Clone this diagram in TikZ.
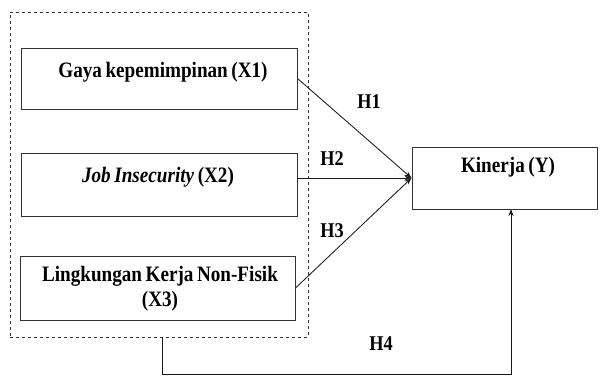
\documentclass[tikz,border=0pt]{standalone}
\usepackage{fontspec}
\setmainfont{Liberation Serif}[FakeStretch=0.87,WordSpace=0.75]
\usetikzlibrary{arrows.meta}
\begin{document}
\begin{tikzpicture}[x=1pt,y=-1pt,
  box/.style={draw=black!80, line width=1pt, inner sep=0pt},
  txt/.style={font=\fontsize{22}{25}\selectfont\bfseries, inner sep=0pt},
  hlbl/.style={font=\fontsize{21}{22}\selectfont\bfseries, inner sep=0pt, anchor=base},
  conn/.style={line width=0.85pt, draw=black!90},
  arr/.style={conn, -{Stealth[length=7pt,width=5pt]}}]
\useasboundingbox (0,0) rectangle (600,376);
% dashed group
\node[draw=black!80, dashed, line width=0.75pt, minimum width=298pt, minimum height=325pt, inner sep=0pt] (grp) at (159,174.5) {};
% boxes
\node[box, minimum width=276pt, minimum height=61pt] (x1) at (159,78.5) {};
\node[box, minimum width=276pt, minimum height=63pt] (x2) at (159,184.5) {};
\node[box, minimum width=275pt, minimum height=64pt] (x3) at (157.5,288) {};
\node[box, minimum width=185pt, minimum height=62pt] (kin) at (504.5,178) {};
% texts
\node[txt, anchor=base] (x1t) at (163,77) {Gaya kepemimpinan (X1)};
\node[txt, anchor=base] (x2t) at (158,182) {\itshape Job Insecurity\upshape\ (X2)};
\node[txt, align=center] (x3t) at (160,289) {Lingkungan Kerja Non-Fisik\\(X3)};
\node[txt, anchor=base] (kint) at (508,172) {Kinerja (Y)};
% connectors
\draw[arr] (x1.east) -- (kin.west);
\draw[arr] (x2.east |- kin.west) -- (kin.west);
\draw[arr] (x3.east) -- (kin.west);
\coordinate (h4s) at (162,337);
\coordinate (h4e) at (511,209);
\draw[arr] (h4s) -- (162,374) -| (h4e);
% labels
\node[hlbl] (h1) at (369,108) {H1};
\node[hlbl] (h2) at (332,165) {H2};
\node[hlbl] (h3) at (332,237) {H3};
\node[hlbl] (h4) at (381,350) {H4};
\end{tikzpicture}
\end{document}
